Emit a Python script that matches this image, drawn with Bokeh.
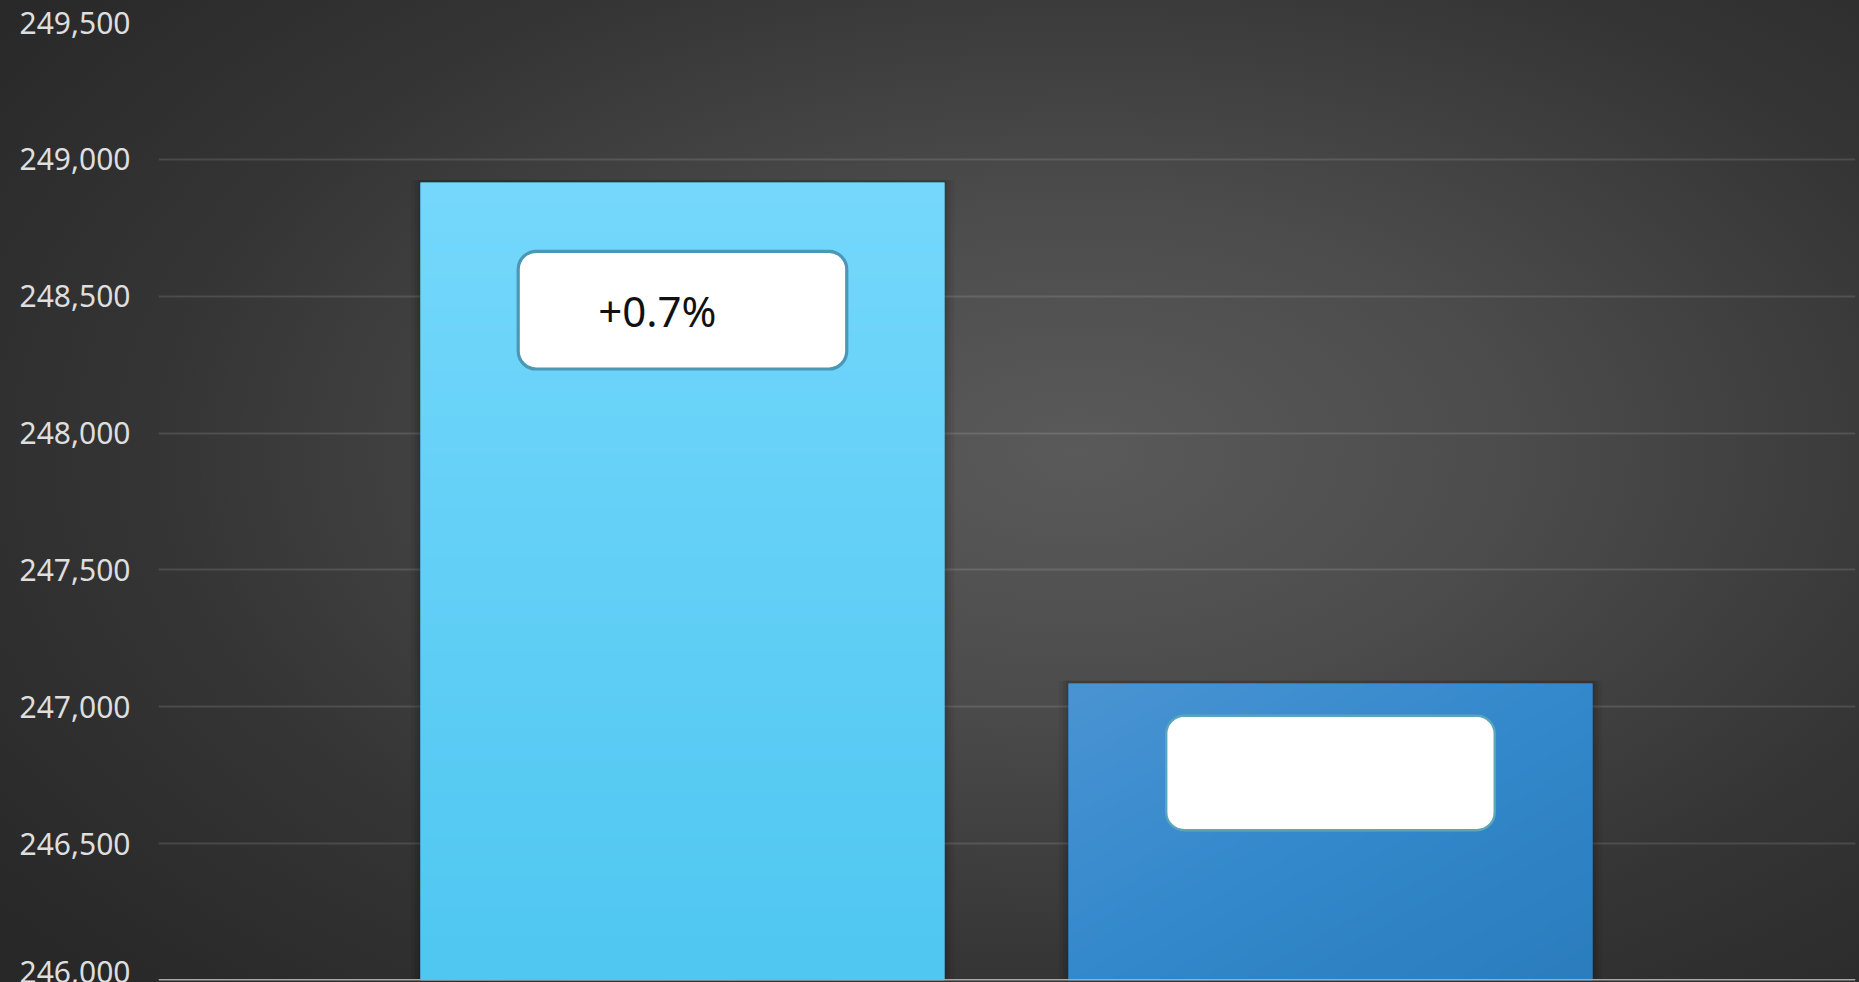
import numpy as np
from bokeh.plotting import figure
from bokeh.models import Range1d, Span, SingleIntervalTicker, NumeralTickFormatter, GlobalInlineStyleSheet
from bokeh.core.properties import value
from bokeh.embed import file_html
from bokeh.resources import INLINE

# ---- data ----
categories = ["Period 1", "Period 2"]
values = [248915, 247085]
change_labels = ["+0.7%", ""]
y_min, y_max, y_step = 246000, 249500, 500

# ---- style constants ----
positions = [1.0, 2.0]
bar_w = 0.8086
box_half = 0.2535
box_top_off = [251, 118]
box_h = [430, 418]
box_border = ["#4a97b6", "#5aa5b7"]
box_border_w = [3.2, 2.4]
text_dx = -0.130

p = figure(width=1859, height=982, output_backend="svg", toolbar_location=None,
           x_range=Range1d(0.1914, 2.8102), y_range=Range1d(y_min, y_max),
           min_border_left=158, min_border_right=4, min_border_top=22, min_border_bottom=2)
p.background_fill_alpha = 0
p.border_fill_alpha = 0
p.outline_line_color = None
p.styles = {"background": "radial-gradient(ellipse 72% 78% at 58% 46%, #5a5a5a 0%, #4c4c4c 32%, #353535 68%, #282828 100%)"}
p.stylesheets = [GlobalInlineStyleSheet(css="html, body { background: #262626; overflow: hidden; }")]

p.xaxis.visible = False
p.xgrid.visible = False
yax = p.yaxis[0]
yax.ticker = SingleIntervalTicker(interval=y_step)
yax.formatter = NumeralTickFormatter(format="0,0")
yax.axis_line_color = None
yax.major_tick_line_color = None
yax.minor_tick_line_color = None
yax.major_tick_out = 0
yax.major_tick_in = 0
yax.minor_tick_out = 0
yax.major_label_standoff = 28
yax.major_label_text_font = "Noto Sans"
yax.major_label_text_font_size = "30px"
yax.major_label_text_color = "#dedede"
p.ygrid.grid_line_color = "white"
p.ygrid.grid_line_alpha = 0.12
p.ygrid.grid_line_width = 2
p.ygrid.ticker = SingleIntervalTicker(interval=y_step)


def hex2rgb(h):
    h = h.lstrip("#")
    return np.array([int(h[i:i + 2], 16) for i in (0, 2, 4)], dtype=float)


def to_rgba(rgb):
    n, m, _ = rgb.shape
    img = np.empty((n, m), dtype=np.uint32)
    v = img.view(dtype=np.uint8).reshape((n, m, 4))
    v[:, :, :3] = np.clip(rgb, 0, 255).astype(np.uint8)
    v[:, :, 3] = 255
    return img


# soft shadows
for k, a in [(0.030, 0.05), (0.018, 0.07), (0.008, 0.08)]:
    p.vbar(x=positions, top=[v + 10 for v in values], bottom=y_min, width=bar_w + k,
           fill_color="black", fill_alpha=a, line_color=None)

p.vbar(x=positions, top=values, bottom=y_min, width=bar_w,
       fill_color=["#5fcff6", "#3388c9"], line_color=None)

# bar 1: vertical gradient
N = 240
t = np.linspace(0, 1, N)[:, None, None]  # 0 bottom, 1 top
c_bot, c_top = hex2rgb("#4fc7f1"), hex2rgb("#75d8fc")
g1 = c_bot + (c_top - c_bot) * t
g1 = np.repeat(g1, 4, axis=1)
p.image_rgba(image=[to_rgba(g1)], x=positions[0] - bar_w / 2, y=y_min,
             dw=bar_w, dh=values[0] - y_min)

# bar 2: diagonal gradient (top-left light to bottom-right dark)
yy, xx = np.mgrid[0:N, 0:N] / (N - 1)
d = (xx + (1 - yy)) / 2.0
d = d[:, :, None]
c_tl, c_mid, c_br = hex2rgb("#4b94d3"), hex2rgb("#3389cc"), hex2rgb("#2b7dbd")
g2 = np.where(d < 0.5, c_tl + (c_mid - c_tl) * (d / 0.5), c_mid + (c_br - c_mid) * ((d - 0.5) / 0.5))
p.image_rgba(image=[to_rgba(g2)], x=positions[1] - bar_w / 2, y=y_min,
             dw=bar_w, dh=values[1] - y_min)

# label boxes
tops = [v - o for v, o in zip(values, box_top_off)]
bottoms = [tp - h for tp, h in zip(tops, box_h)]
for i in range(len(values)):
    p.quad(left=positions[i] - box_half, right=positions[i] + box_half,
           top=tops[i], bottom=bottoms[i], fill_color="white",
           line_color=box_border[i], line_width=box_border_w[i], border_radius=18)

p.text(x=[x + text_dx for x in positions], y=[(tp + bt) / 2 for tp, bt in zip(tops, bottoms)],
       text=change_labels, text_font=value("Noto Sans"), text_font_size="42px",
       text_color="#111111", text_align="left", text_baseline="middle")

p.add_layout(Span(location=y_min, dimension="width", line_color="#a8a8a8", line_width=3))

open("out.html", "w").write(file_html(p, INLINE))
